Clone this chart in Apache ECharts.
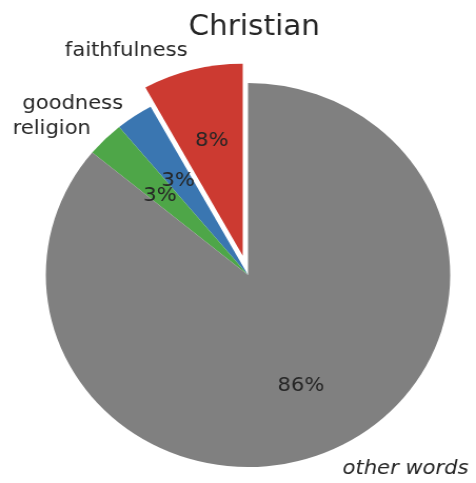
<!DOCTYPE html>
<html>
<head>
<meta charset="utf-8">
<script src="https://cdn.jsdelivr.net/npm/echarts@6/dist/echarts.min.js"></script>
<style>
  html, body { margin: 0; padding: 0; background: #fff; overflow: hidden; }
  /* the figure is drawn slightly wider than tall */
  #chart { width: 452px; height: 483px; transform: scaleX(1.0531); transform-origin: 0 0; }
</style>
</head>
<body>
<div id="chart"></div>
<script>
// Word shares for the "Christian" group
const categories = ['faithfulness', 'goodness', 'religion', 'other words'];
const shares = [8, 3, 3, 86];
const colors = ['#cc3a31', '#3a76b1', '#4ea648', '#808080'];
const exploded = [true, false, false, false];

const FONT = 'DejaVu Sans';
const CENTER = [235.5, 275];
const R = 192;

const sliceData = categories.map((name, i) => ({
  name: name,
  value: shares[i],
  selected: exploded[i],
  itemStyle: { color: colors[i] },
  label: i === 3 ? { fontStyle: 'italic' } : {}
}));

const pctData = categories.map((name, i) => ({
  name: name,
  value: shares[i],
  selected: exploded[i]
}));

const chart = echarts.init(document.getElementById('chart'), null, { renderer: 'canvas' });

chart.setOption({
  animation: false,
  title: {
    text: 'Christian',
    left: 174,
    top: 9,
    textStyle: { fontFamily: FONT, fontSize: 28, fontWeight: 'normal', color: '#262626' }
  },
  series: [
    {
      type: 'pie',
      center: CENTER,
      radius: [0, R],
      startAngle: 90,
      clockwise: false,
      selectedMode: 'single',
      selectedOffset: 20,
      avoidLabelOverlap: false,
      minShowLabelAngle: 0,
      silent: true,
      emphasis: { scale: false },
      itemStyle: { borderWidth: 0 },
      label: {
        show: true,
        position: 'outside',
        formatter: '{b}',
        fontFamily: FONT,
        fontSize: 20,
        color: '#262626',
        offset: [0, 3],
        distanceToLabelLine: 0,
        alignTo: 'none'
      },
      labelLine: { show: false, length: 19, length2: 0 },
      labelLayout: { hideOverlap: false },
      data: sliceData
    },
    {
      // transparent ring that carries the percentage labels at 0.6 R
      type: 'pie',
      center: CENTER,
      radius: [R * 0.2, R],
      startAngle: 90,
      clockwise: false,
      selectedMode: 'single',
      selectedOffset: 20,
      percentPrecision: 0,
      avoidLabelOverlap: false,
      minShowLabelAngle: 0,
      silent: true,
      emphasis: { scale: false },
      itemStyle: { color: 'rgba(0,0,0,0)', borderWidth: 0 },
      label: {
        show: true,
        position: 'inside',
        formatter: '{d}%',
        fontFamily: FONT,
        fontSize: 20,
        color: '#262626',
        offset: [0, 4]
      },
      labelLine: { show: false },
      labelLayout: { hideOverlap: false },
      data: pctData
    }
  ]
});
</script>
</body>
</html>
